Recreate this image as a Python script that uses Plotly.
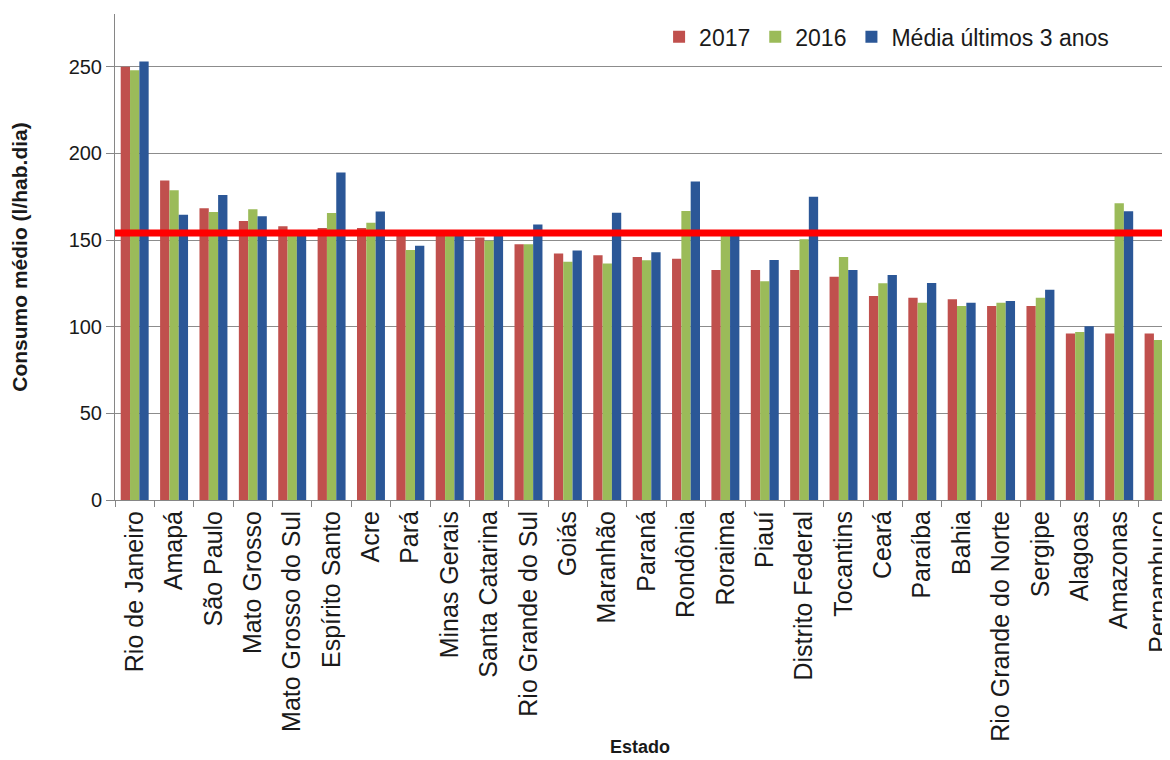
import plotly.graph_objects as go

estados = ["Rio de Janeiro", "Amapá", "São Paulo", "Mato Grosso", "Mato Grosso do Sul",
           "Espírito Santo", "Acre", "Pará", "Minas Gerais", "Santa Catarina",
           "Rio Grande do Sul", "Goiás", "Maranhão", "Paraná", "Rondônia", "Roraima",
           "Piauí", "Distrito Federal", "Tocantins", "Ceará", "Paraíba", "Bahia",
           "Rio Grande do Norte", "Sergipe", "Alagoas", "Amazonas", "Pernambuco"]

v2017 = [250, 184.4, 168.3, 161, 158, 157, 157, 154, 154, 151.4,
         147.6, 142.2, 141.2, 140.2, 139.2, 132.7, 132.7, 132.7, 128.8, 117.7,
         116.7, 115.8, 111.9, 111.9, 96, 96, 96]
v2016 = [248, 178.7, 166.2, 167.7, 155, 165.6, 160, 144.2, 154, 149.6,
         147.6, 137.5, 136.5, 138.3, 166.7, 153, 126.2, 150.5, 140.2, 125,
         113.8, 111.9, 113.8, 116.7, 96.9, 171.2, 92.3]
vmedia = [253, 164.6, 176, 163.7, 154, 189, 166.5, 146.7, 155, 153.5,
          159, 143.9, 165.8, 142.9, 183.7, 153.5, 138.4, 175, 132.7, 129.8,
          125.2, 113.8, 114.8, 121.3, 100.2, 166.6, 104.4]

nomes = ["2017", "2016", "Média últimos 3 anos"]
cores = ["#C0504D", "#9BBB59", "#2B5797"]
referencia = 154
y_ticks = [0, 50, 100, 150, 200, 250]

fig = go.Figure()
for nome, vals, cor in zip(nomes, [v2017, v2016, vmedia], cores):
    fig.add_trace(go.Bar(x=estados, y=vals, name=nome, marker=dict(color=cor, line_width=0)))

fig.add_shape(type="line", xref="paper", x0=0, x1=1, yref="y", y0=referencia, y1=referencia,
              line=dict(color="#FF0000", width=7), layer="above")

fig.add_annotation(text="<b>Estado</b>", xref="paper", yref="paper", x=0.498, y=-0.508,
                   showarrow=False, xanchor="center", yanchor="middle",
                   font=dict(family="Liberation Sans, Arial", size=18, color="#1a1a1a"))

# the page body adds an 8px margin, so the figure is sized to fill the rest of the window
fig.update_layout(
    width=1162, height=752,
    margin=dict(l=107, r=0, t=6, b=260, autoexpand=False),
    paper_bgcolor="white", plot_bgcolor="white",
    barmode="group", bargap=0.29, bargroupgap=0,
    font=dict(family="Liberation Sans, Arial", color="#1a1a1a"),
    legend=dict(orientation="h", x=0.947, xanchor="right", y=0.953, yanchor="middle",
                font=dict(family="Liberation Sans, Arial", size=23, color="#1a1a1a"),
                bgcolor="rgba(0,0,0,0)", itemwidth=30, traceorder="normal"),
    xaxis=dict(range=[-0.5, 26.29], tickangle=-90, tickson="boundaries", ticks="outside",
               ticklen=6, tickcolor="#868686", showline=True, linecolor="#868686", linewidth=1,
               showgrid=False, automargin=False,
               tickfont=dict(size=25, family="Liberation Sans, Arial", color="#1a1a1a")),
    yaxis=dict(range=[0, 280.4], tickvals=y_ticks, ticks="outside", ticklen=8, tickcolor="#868686",
               showline=True, linecolor="#868686", linewidth=1, showgrid=True, gridcolor="#8c8c8c",
               gridwidth=1, zeroline=False, automargin=False,
               tickfont=dict(size=20, family="Liberation Sans, Arial", color="#1a1a1a"),
               title=dict(text="<b>Consumo médio (l/hab.dia)</b>", standoff=36,
                          font=dict(size=21, family="Liberation Sans, Arial", color="#1a1a1a"))),
)

fig.write_html("out.html")
